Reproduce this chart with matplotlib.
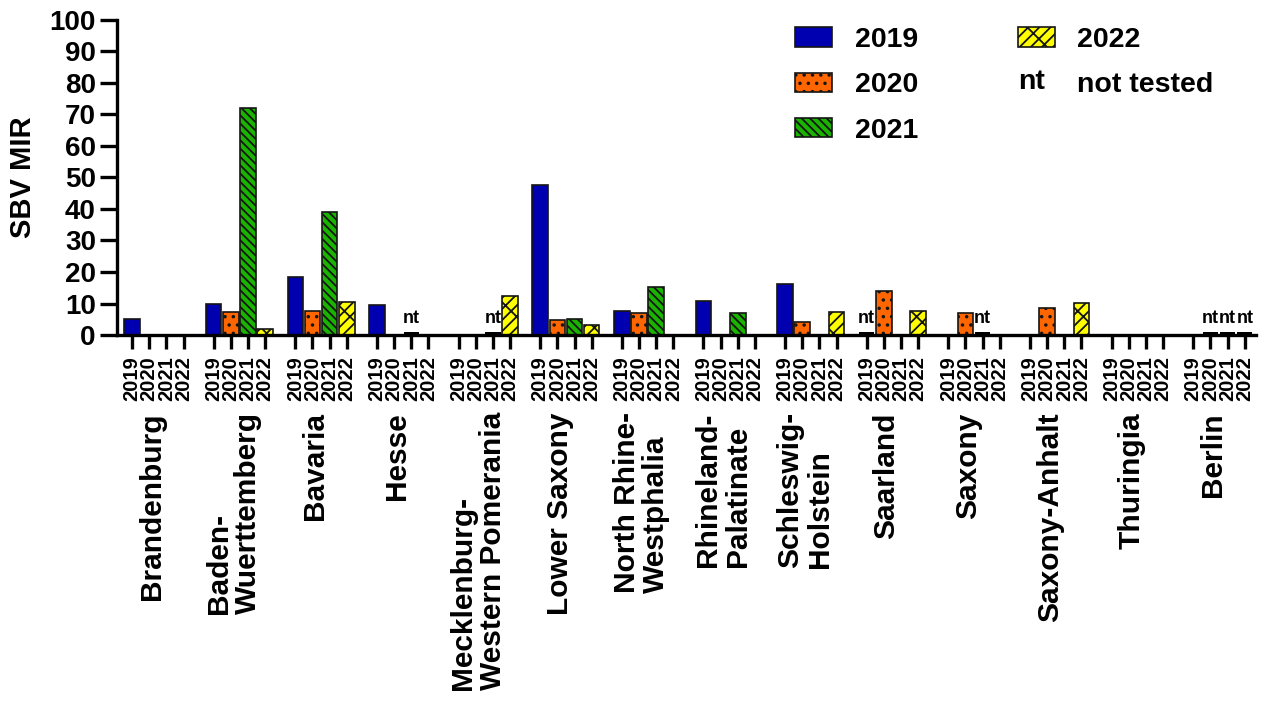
import numpy as np
import matplotlib.pyplot as plt
from matplotlib.patches import Patch
from matplotlib.text import Text
from matplotlib.legend_handler import HandlerBase
from matplotlib.transforms import blended_transform_factory, offset_copy

# SBV minimum infection rates per federal state and year (nan = not tested)
states = ['Brandenburg', 'Baden-\nWuerttemberg', 'Bavaria', 'Hesse',
          'Mecklenburg-\nWestern Pomerania', 'Lower Saxony', 'North Rhine-\nWestphalia',
          'Rhineland-\nPalatinate', 'Schleswig-\nHolstein', 'Saarland', 'Saxony',
          'Saxony-Anhalt', 'Thuringia', 'Berlin']
years = ['2019', '2020', '2021', '2022']
nan = np.nan
mir_2019 = [5.2, 10.0, 18.3, 9.5, 0, 47.6, 7.6, 10.9, 16.2, nan, 0, 0, 0, 0]
mir_2020 = [0, 7.3, 7.7, 0, 0, 4.7, 7.0, 0, 4.2, 14.0, 6.9, 8.7, 0, nan]
mir_2021 = [0, 72.0, 39.0, nan, nan, 5.2, 15.1, 7.1, 0, 0, nan, 0, 0, nan]
mir_2022 = [0, 1.8, 10.6, 0, 12.4, 3.1, 0, 0, 7.2, 7.6, 0, 10.2, 0, nan]
series = [mir_2019, mir_2020, mir_2021, mir_2022]

colors = ['#0000B0', '#FF6600', '#19B300', '#FFFF00']
hatches = ['', '..', '\\\\\\\\', '///\\']

plt.rcParams['font.family'] = 'Liberation Sans'
plt.rcParams['font.weight'] = 'bold'
plt.rcParams['axes.labelweight'] = 'bold'
plt.rcParams['hatch.linewidth'] = 1.3

fig = plt.figure(figsize=(12.63, 7.01), dpi=100)
ax = fig.add_axes([0.0924, 0.5221, 0.902, 0.4494])

group_step = 4.75
bar_w = 0.9
gx = np.arange(len(states)) * group_step

ticks, tick_labels = [], []
for j, vals in enumerate(series):
    vals = np.array(vals, dtype=float)
    x = gx + j
    ok = ~np.isnan(vals)
    ax.bar(x[ok], vals[ok], width=bar_w, color=colors[j], hatch=hatches[j],
           edgecolor='#151515', linewidth=1.2, zorder=3)
    nt = np.isnan(vals)
    ax.bar(x[nt], 0.9, width=bar_w, color='black', zorder=4)
    for xi in x[nt]:
        ax.text(xi, 2.4, 'nt', ha='center', va='bottom', fontsize=13, zorder=5)
    ticks += list(x)
    tick_labels += [years[j]] * len(x)

order = np.argsort(ticks)
ax.set_xticks(np.array(ticks)[order])
ax.set_xticklabels(np.array(tick_labels)[order], rotation=90)
ax.set_xlim(-0.89, 65.4)
ax.set_ylim(0, 100)
ax.set_yticks(np.arange(0, 101, 10))

for s in ['top', 'right']:
    ax.spines[s].set_visible(False)
for s in ['left', 'bottom']:
    ax.spines[s].set_linewidth(2.4)
    ax.spines[s].set_zorder(6)
ax.tick_params(axis='x', length=10, width=2.4, labelsize=14.5, pad=5)
ax.tick_params(axis='y', length=12, width=2.4, labelsize=20, pad=3)

ax.set_ylabel('SBV MIR', fontsize=21)
ax.yaxis.set_label_coords(-0.07, 0.5)

# state names under the year ticks
trans = offset_copy(blended_transform_factory(ax.transData, ax.transAxes),
                    fig=fig, x=-6, y=0, units='dots')
for g, name in zip(gx, states):
    ax.text(g + 1.5, -0.245, name, rotation=90, ha='center', va='top',
            multialignment='left', fontsize=21.5, linespacing=1.08,
            transform=trans)


class TextHandler(HandlerBase):
    def create_artists(self, legend, orig_handle, xdescent, ydescent,
                       width, height, fontsize, trans):
        t = Text(-xdescent, -ydescent + height / 2, orig_handle.get_text(),
                 ha='left', va='center', fontsize=fontsize, fontweight='bold',
                 transform=trans)
        return [t]


handles = [Patch(facecolor=c, hatch=h, edgecolor='#151515', linewidth=1.2)
           for c, h in zip(colors, hatches)]
nt_handle = Text(text='nt')
handles.append(nt_handle)
labels = years + ['not tested']
fig.legend(handles, labels, loc='upper left', bbox_to_anchor=(795 / 1263, 1 - 27 / 701),
           ncol=2, frameon=False, fontsize=20.5, handlelength=1.3, handleheight=0.65,
           handletextpad=0.8, columnspacing=3.5, labelspacing=0.68, borderpad=0,
           borderaxespad=0, handler_map={nt_handle: TextHandler()})

fig.savefig('out.png', dpi=100)
